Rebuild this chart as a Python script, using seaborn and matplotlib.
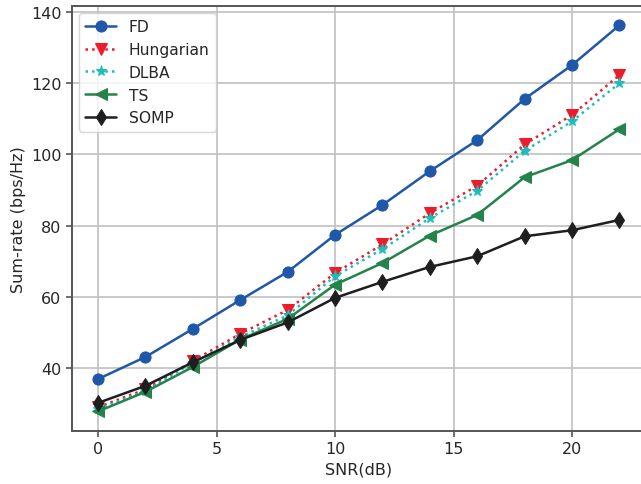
import numpy as np
import pandas as pd
import seaborn as sns
import matplotlib
matplotlib.use("Agg")
import matplotlib.pyplot as plt

snr = [0, 2, 4, 6, 8, 10, 12, 14, 16, 18, 20, 22]
fd = [36.9, 43.1, 51.0, 59.1, 67.0, 77.4, 85.8, 95.3, 104.0, 115.6, 125.1, 136.3]
hungarian = [29.0, 34.0, 42.0, 49.6, 56.3, 66.7, 74.7, 83.5, 91.2, 102.8, 111.1, 122.3]
dlba = [28.5, 33.5, 41.5, 48.7, 54.8, 65.8, 73.4, 82.1, 89.8, 101.0, 109.3, 120.0]
ts = [27.8, 33.3, 40.3, 48.0, 53.8, 63.4, 69.5, 77.2, 83.0, 93.6, 98.4, 107.1]
somp = [30.2, 35.0, 41.6, 47.9, 52.8, 59.7, 64.2, 68.4, 71.4, 77.0, 78.7, 81.6]

sns.set_style("ticks")
plt.rcParams["font.family"] = ["DejaVu Sans"]

fig = plt.figure(figsize=(6.41, 4.85), dpi=100)
ax = fig.add_axes([72 / 641, 53 / 485, 573.5 / 641, 425 / 485])

series = [
    ("FD", fd, "#1f57a9", "o", "-", 8),
    ("Hungarian", hungarian, "#ee1c2b", "v", ":", 8),
    ("DLBA", dlba, "#20bcbc", "*", ":", 8),
    ("TS", ts, "#23834a", "<", "-", 8),
    ("SOMP", somp, "#1e1e1e", "d", "-", 8),
]

for name, vals, col, mk, ls, ms in series:
    sns.lineplot(x=snr, y=vals, ax=ax, label=name, color=col, marker=mk,
                 linestyle=ls, linewidth=1.8, markersize=ms,
                 markeredgecolor=col, markerfacecolor=col)

ax.set_xlim(-1.1, 23.1)
ax.set_ylim(22.3, 141.7)
ax.set_xticks([0, 5, 10, 15, 20])
ax.set_yticks([40, 60, 80, 100, 120, 140])
ax.grid(True, color="#c0c0c4", linewidth=1.2)
ax.set_axisbelow(True)
for s in ax.spines.values():
    s.set_color("#555555")
    s.set_linewidth(1.4)
ax.tick_params(axis="both", labelsize=11.5, color="#555555", width=1.2, length=4)
ax.set_xlabel("SNR(dB)", fontsize=11.5)
ax.set_ylabel("Sum-rate (bps/Hz)", fontsize=11.5)
ax.legend(loc="upper left", fontsize=11.2, frameon=True, borderaxespad=0.45)

fig.savefig("out.png", dpi=100)
